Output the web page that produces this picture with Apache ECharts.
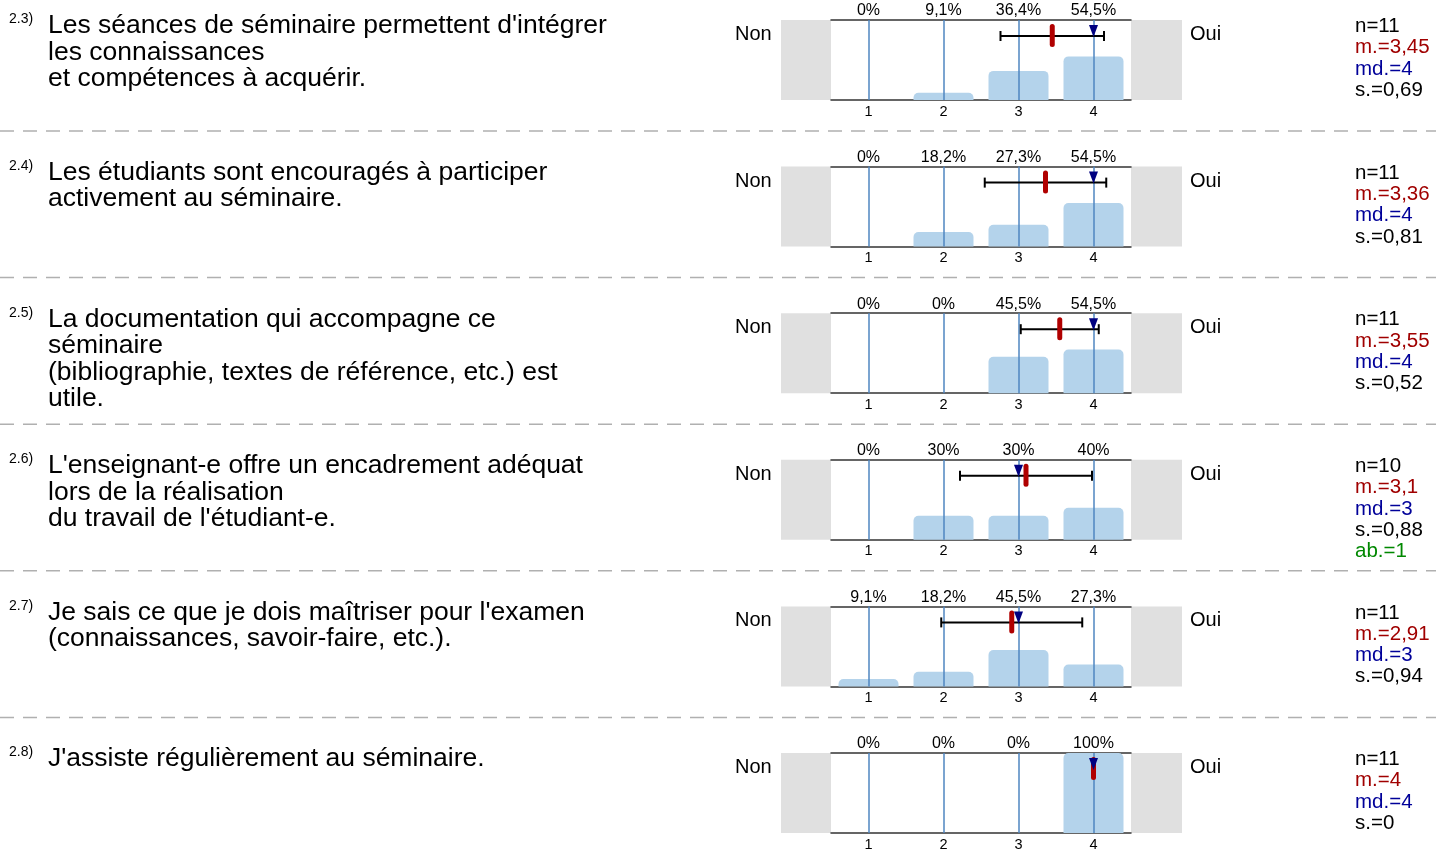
<!DOCTYPE html>
<html><head><meta charset="utf-8">
<script src="https://cdn.jsdelivr.net/npm/echarts@6/dist/echarts.min.js"></script>
<style>html,body{margin:0;padding:0;background:#fff}#c{width:1436px;height:855px}</style>
</head><body><div id="c"></div>
<script>
// ---- data ----
const qNumbers = ['2.3)', '2.4)', '2.5)', '2.6)', '2.7)', '2.8)'];
const questions = [
  "Les séances de séminaire permettent d'intégrer\nles connaissances\net compétences à acquérir.",
  "Les étudiants sont encouragés à participer\nactivement au séminaire.",
  "La documentation qui accompagne ce\nséminaire\n(bibliographie, textes de référence, etc.) est\nutile.",
  "L'enseignant-e offre un encadrement adéquat\nlors de la réalisation\ndu travail de l'étudiant-e.",
  "Je sais ce que je dois maîtriser pour l'examen\n(connaissances, savoir-faire, etc.).",
  "J'assiste régulièrement au séminaire."
];
const scaleCategories = ['1', '2', '3', '4'];
const leftPole = 'Non';
const rightPole = 'Oui';
const pct23 = [0, 9.1, 36.4, 54.5];
const pct24 = [0, 18.2, 27.3, 54.5];
const pct25 = [0, 0, 45.5, 54.5];
const pct26 = [0, 30, 30, 40];
const pct27 = [9.1, 18.2, 45.5, 27.3];
const pct28 = [0, 0, 0, 100];
const nValues = [11, 11, 11, 10, 11, 11];
const meanValues = [3.45, 3.36, 3.55, 3.1, 2.91, 4];
const medianValues = [4, 4, 4, 3, 3, 4];
const sdValues = [0.69, 0.81, 0.52, 0.88, 0.94, 0];
const abValues = [null, null, null, 1, null, null];

const pctRows = [pct23, pct24, pct25, pct26, pct27, pct28];

// ---- layout ----
const ROW0 = 20, ROWSTEP = 146.6, GRID_L = 831, GRID_W = 300, GRID_H = 80;
const FONT = "'Liberation Sans', Arial, sans-serif";
const fr = v => String(v).replace('.', ',');

const grids = [], xAxes = [], yAxes = [], series = [], graphics = [];

pctRows.forEach((pct, i) => {
  const top = ROW0 + i * ROWSTEP;
  grids.push({left: GRID_L, top: top, width: GRID_W, height: GRID_H, outerBoundsMode: 'none', containLabel: false});
  xAxes.push({
    type: 'category', gridIndex: i, data: scaleCategories, position: 'bottom',
    axisLine: {lineStyle: {color: '#333', width: 1.5}}, axisTick: {show: false},
    axisLabel: {color: '#000', fontSize: 14.5, fontFamily: FONT, margin: 4}
  });
  xAxes.push({
    type: 'category', gridIndex: i, data: pct.map(p => fr(p) + '%'), position: 'top',
    axisLine: {lineStyle: {color: '#333', width: 1.5}}, axisTick: {show: false},
    axisLabel: {color: '#000', fontSize: 16, fontFamily: FONT, margin: 1}
  });
  xAxes.push({type: 'value', gridIndex: i, min: 0.5, max: 4.5, show: false});
  yAxes.push({type: 'value', gridIndex: i, min: 0, max: 100, show: false});

  series.push({
    type: 'bar', xAxisIndex: 3 * i, yAxisIndex: i, data: pct, barWidth: 60,
    itemStyle: {color: '#b4d3eb', borderRadius: [5, 5, 0, 0]},
    silent: true, z: 2,
    markLine: {
      silent: true, symbol: 'none', label: {show: false},
      lineStyle: {color: '#4f86c0', width: 1.5, type: 'solid'},
      data: scaleCategories.map(c => ({xAxis: c}))
    }
  });
  series.push({
    type: 'custom', xAxisIndex: 3 * i + 2, yAxisIndex: i, z: 10, silent: true,
    data: [[meanValues[i], sdValues[i], medianValues[i]]],
    renderItem: function (params, api) {
      const m = api.value(0), sd = api.value(1), md = api.value(2);
      const t = api.coord([m, 100])[1];
      const cx = api.coord([m, 0])[0];
      const yl = t + 16;
      const children = [];
      if (sd > 0) {
        const x1 = api.coord([m - sd, 0])[0], x2 = api.coord([m + sd, 0])[0];
        const st = {stroke: '#000', lineWidth: 2};
        children.push({type: 'line', shape: {x1: x1, y1: yl, x2: x2, y2: yl}, style: st});
        children.push({type: 'line', shape: {x1: x1, y1: yl - 5, x2: x1, y2: yl + 5}, style: st});
        children.push({type: 'line', shape: {x1: x2, y1: yl - 5, x2: x2, y2: yl + 5}, style: st});
      }
      children.push({type: 'rect', shape: {x: cx - 2.5, y: t + 4, width: 5, height: 23, r: 2.5}, style: {fill: '#b00000'}});
      const mx = api.coord([md, 0])[0];
      children.push({type: 'polygon', shape: {points: [[mx - 4.5, t + 5], [mx + 4.5, t + 5], [mx, t + 17]]}, style: {fill: '#000080'}});
      return {type: 'group', children: children};
    }
  });

  // grey side blocks
  graphics.push({type: 'rect', shape: {x: GRID_L - 50, y: top, width: 50, height: GRID_H}, style: {fill: '#e0e0e0'}, silent: true});
  graphics.push({type: 'rect', shape: {x: GRID_L + GRID_W, y: top, width: 51, height: GRID_H}, style: {fill: '#e0e0e0'}, silent: true});
  // poles
  graphics.push({type: 'text', x: 735, y: top + 14.5, style: {text: leftPole, font: '20px ' + FONT, fill: '#000', verticalAlign: 'middle'}});
  graphics.push({type: 'text', x: 1190, y: top + 14.5, style: {text: rightPole, font: '20px ' + FONT, fill: '#000', verticalAlign: 'middle'}});
  // question number and text
  graphics.push({type: 'text', x: 9, y: top - 0.5, style: {text: qNumbers[i], font: '14px ' + FONT, fill: '#000', verticalAlign: 'middle'}});
  graphics.push({type: 'text', x: 48, y: top + 6 - 13.25, style: {text: questions[i], font: '26.5px ' + FONT, lineHeight: 26.5, fill: '#000', verticalAlign: 'top'}});
  // stats
  const stats = [['n=' + nValues[i], '#000'], ['m.=' + fr(meanValues[i]), '#a00000'], ['md.=' + fr(medianValues[i]), '#000099'], ['s.=' + fr(sdValues[i]), '#000']];
  if (abValues[i] != null) stats.push(['ab.=' + abValues[i], '#008800']);
  stats.forEach((s, k) => {
    graphics.push({type: 'text', x: 1355, y: top + 6.5 + k * 21.3, style: {text: s[0], font: '20.5px ' + FONT, fill: s[1], verticalAlign: 'middle'}});
  });
  // separator
  if (i < pctRows.length - 1) {
    graphics.push({type: 'line', shape: {x1: 0, y1: top + 111, x2: 1436, y2: top + 111}, style: {stroke: '#b0b0b0', lineWidth: 1.5, lineDash: [14, 9]}, silent: true});
  }
});

const chart = echarts.init(document.getElementById('c'), null, {renderer: 'canvas'});
chart.setOption({
  animation: false,
  backgroundColor: '#fff',
  grid: grids, xAxis: xAxes, yAxis: yAxes, series: series,
  graphic: graphics
});
</script>
</body></html>
